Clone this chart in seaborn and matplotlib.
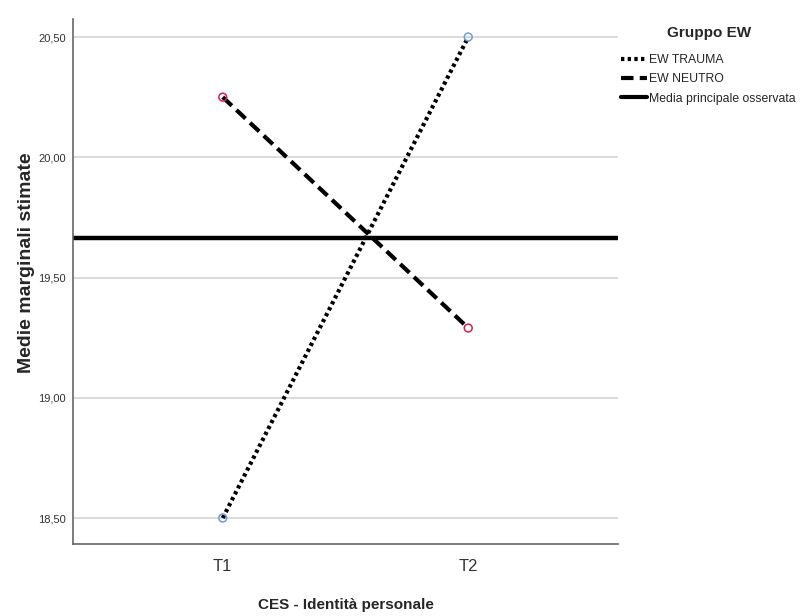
import matplotlib
matplotlib.use("Agg")
import matplotlib.pyplot as plt
from matplotlib.lines import Line2D
import seaborn as sns
import pandas as pd

times = ["T1", "T2"]
trauma = [18.50, 20.50]
neutro = [20.25, 19.29]
grand_mean = 19.663
groups = ["EW TRAUMA", "EW NEUTRO"]
yticks = [18.5, 19.0, 19.5, 20.0, 20.5]
ytick_labels = ["18,50", "19,00", "19,50", "20,00", "20,50"]
legend_labels = ["EW TRAUMA", "EW NEUTRO", "Media principale osservata"]

sns.set_style("white")
plt.rcParams["font.family"] = ["Liberation Sans", "DejaVu Sans"]

df = pd.DataFrame({
    "time": times * 2,
    "value": trauma + neutro,
    "group": [groups[0]] * 2 + [groups[1]] * 2,
})

fig = plt.figure(figsize=(8, 6.16), dpi=100)
ax = fig.add_axes([0.09125, 0.1169, 0.68125, 0.8523])

for yv in yticks:
    ax.axhline(yv, color="#d4d4d4", lw=1.2, zorder=0)

sns.lineplot(data=df, x="time", y="value", style="group", color="black",
             dashes={groups[0]: (0.8, 0.8), groups[1]: (3, 1.5)},
             lw=3, legend=False, ax=ax, zorder=2)
ax.axhline(grand_mean, color="black", lw=3.2, zorder=2)
sns.scatterplot(data=df, x="time", y="value", hue="group",
                palette={groups[0]: "#6a9fd8", groups[1]: "#d8204f"},
                marker="o", s=32, linewidth=1.1,
                legend=False, ax=ax, zorder=3)
cols = ["#6a9fd8" if g == groups[0] else "#d8204f" for g in df["group"]]
ax.collections[-1].set_edgecolors(cols)
ax.collections[-1].set_facecolors("none")

ax.set_xlim(-0.61, 1.61)
ax.set_ylim(18.392, 20.575)
ax.set_yticks(yticks)
ax.set_yticklabels(ytick_labels, fontsize=8, color="#333333")
ax.set_xticks([0, 1])
ax.set_xticklabels(times, fontsize=12, color="#333333")
ax.tick_params(axis="y", length=0, pad=5)
ax.tick_params(axis="x", length=0, pad=11)
ax.set_xlabel("CES - Identità personale", fontsize=11, fontweight="bold")
ax.set_ylabel("Medie marginali stimate", fontsize=14, fontweight="bold")
ax.xaxis.set_label_coords(0.501, -0.116)
ax.xaxis.label.set_va("center")
ax.yaxis.set_label_coords(-0.086, 0.536)
ax.yaxis.label.set_va("center")

for s in ["top", "right"]:
    ax.spines[s].set_visible(False)
for s in ["left", "bottom"]:
    ax.spines[s].set_color("#666666")
    ax.spines[s].set_linewidth(1.2)

handles = [
    Line2D([], [], color="black", lw=3, linestyle=(0, (0.8, 0.8))),
    Line2D([], [], color="black", lw=3, linestyle=(0, (3, 1.5))),
    Line2D([], [], color="black", lw=3, linestyle="-"),
]
leg = fig.legend(handles, legend_labels, title="Gruppo EW", loc="upper left",
                 bbox_to_anchor=(0.7765, 0.957), frameon=False,
                 fontsize=8.8, handlelength=2.15, handletextpad=0.15,
                 labelspacing=0.58, borderaxespad=0, borderpad=0)
leg.get_title().set_fontweight("bold")
leg.get_title().set_fontsize(11)
leg.get_title().set_ha("center")
leg._legend_box.sep = 10

fig.savefig("out.png", dpi=100)
